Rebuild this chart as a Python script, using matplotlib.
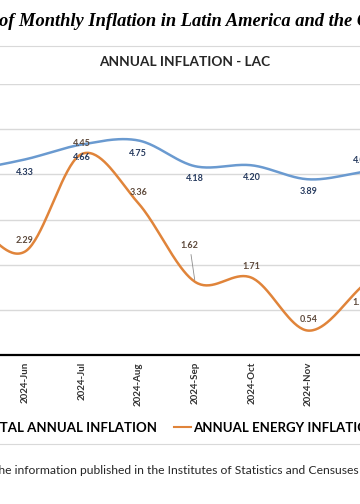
import numpy as np
import matplotlib
matplotlib.use('Agg')
import matplotlib.pyplot as plt
from matplotlib.lines import Line2D
from matplotlib.transforms import Bbox

plt.rcParams['savefig.bbox'] = 'standard'

# ---- data ----
months = ["2024-Apr", "2024-May", "2024-Jun", "2024-Jul", "2024-Aug",
          "2024-Sep", "2024-Oct", "2024-Nov", "2024-Dec"]
total = [4.00, 4.10, 4.33, 4.66, 4.75, 4.18, 4.20, 3.89, 4.06]
energy = [3.30, 3.00, 2.29, 4.45, 3.36, 1.62, 1.71, 0.54, 1.58]
fig_title = "of Monthly Inflation in Latin America and the Caribbean"
chart_title = "ANNUAL INFLATION - LAC"
legend_labels = ["TOTAL ANNUAL INFLATION", "ANNUAL ENERGY INFLATION"]
source_text = "the information published in the Institutes of Statistics and Censuses"

BLUE = "#6A9AD0"
ORANGE = "#E0843A"
BLUE_TXT = "#263A5E"
ORANGE_TXT = "#5E4A3C"
GRID = "#D9D9D9"


def smooth(vals, n=40):
    y = np.asarray(vals, float)
    N = len(y)
    x = np.arange(N, dtype=float)
    m = np.empty(N)
    m[1:-1] = (y[2:] - y[:-2]) / 2
    m[0] = y[1] - y[0]
    m[-1] = y[-1] - y[-2]
    xs, ys = [], []
    for k in range(N - 1):
        t = np.linspace(0, 1, n, endpoint=(k == N - 2))
        h00 = 2 * t**3 - 3 * t**2 + 1
        h10 = t**3 - 2 * t**2 + t
        h01 = -2 * t**3 + 3 * t**2
        h11 = t**3 - t**2
        xs.append(x[k] + t)
        ys.append(h00 * y[k] + h10 * m[k] + h01 * y[k + 1] + h11 * m[k + 1])
    return np.concatenate(xs), np.concatenate(ys)


W, H = 360, 504
fig = plt.figure(figsize=(W / 100, H / 100), dpi=100)

# plot area (extends beyond the cropped figure edges)
ax_bottom = (H - 355) / H
ax_top = (H - 84) / H
ax = fig.add_axes([0, ax_bottom, 1, ax_top - ax_bottom])
step = 56.67
x0 = 2 - 25 / step
x1 = 2 + (W - 25) / step

idx = np.arange(len(months))
ax.set_xticks(idx)
ax.set_xticklabels(months, rotation=90, fontsize=7, fontweight='bold',
                   family='Lato', color='#333333')
ax.tick_params(axis='x', length=0, pad=5)
ax.set_yticks(np.arange(0, 7, 1))

xs, ys = smooth(total)
ax.plot(xs, ys, color=BLUE, lw=1.8, solid_capstyle='round')
xs, ys = smooth(energy)
ax.plot(xs, ys, color=ORANGE, lw=1.8, solid_capstyle='round')

ax.set_xlim(x0, x1)
ax.set_ylim(0, 6)
ax.yaxis.grid(True, color=GRID, lw=1.0)
ax.set_axisbelow(True)
ax.tick_params(axis='y', left=False, labelleft=False)
for s in ['left', 'right', 'top']:
    ax.spines[s].set_visible(False)
ax.spines['bottom'].set_color('black')
ax.spines['bottom'].set_linewidth(1.6)

lab_kw = dict(textcoords='offset points', ha='center', va='center',
              fontsize=6.5, family='Lato', fontweight='bold', annotation_clip=False)
last = len(months) - 1
for i, v in enumerate(total):
    if i < x0:
        continue
    if i == last:
        ax.annotate(f"{v:.2f}", xy=(i, v), xytext=(-2, 8.0), color=BLUE_TXT, **lab_kw)
    else:
        ax.annotate(f"{v:.2f}", xy=(i, v), xytext=(0, -9.1), color=BLUE_TXT, **lab_kw)
for i, v in enumerate(energy):
    if i < x0:
        continue
    if months[i] == "2024-Sep":
        ax.annotate(f"{v:.2f}", xy=(i, v), xytext=(-3.8, 25.9), color=ORANGE_TXT,
                    arrowprops=dict(arrowstyle='-', color='#8C8C8C', lw=0.6,
                                    shrinkA=1, shrinkB=1.5), **lab_kw)
    elif i == last:
        ax.annotate(f"{v:.2f}", xy=(i, v), xytext=(-2.5, -13.5), color=ORANGE_TXT, **lab_kw)
    else:
        ax.annotate(f"{v:.2f}", xy=(i, v), xytext=(0, 7.9), color=ORANGE_TXT, **lab_kw)

# texts
fig.text(-1 / W, 1 - 22 / H, fig_title, ha='left', va='center', fontsize=13.3,
         family='Liberation Serif', fontweight='bold', style='italic', color='black')
fig.text(184.5 / W, 1 - 62 / H, chart_title, ha='center', va='center', fontsize=9.8,
         family='Lato', fontweight='bold', color='#262626')

# chart box borders
fig.add_artist(Line2D([0, 1], [1 - 46 / H, 1 - 46 / H], transform=fig.transFigure,
                      color=GRID, lw=0.8))
fig.add_artist(Line2D([0, 1], [1 - 444 / H, 1 - 444 / H], transform=fig.transFigure,
                      color=GRID, lw=0.8))

handles = [Line2D([], [], color=BLUE, lw=1.5), Line2D([], [], color=ORANGE, lw=1.5)]
fig.legend(handles, legend_labels, loc='center left',
           bbox_to_anchor=(-38 / W, 1 - 428 / H), ncol=2, frameon=False,
           prop=dict(family='Lato', weight='bold', size=9.5),
           handlelength=1.3, handletextpad=0.15, columnspacing=1.25,
           borderpad=0, borderaxespad=0)

fig.text(-6.5 / W, 1 - 470 / H, source_text, ha='left', va='center', fontsize=8.7,
         family='Lato', color='#262626')

fig.savefig('out.png', dpi=100, bbox_inches=Bbox([[0, 0], [W / 100, H / 100]]))
